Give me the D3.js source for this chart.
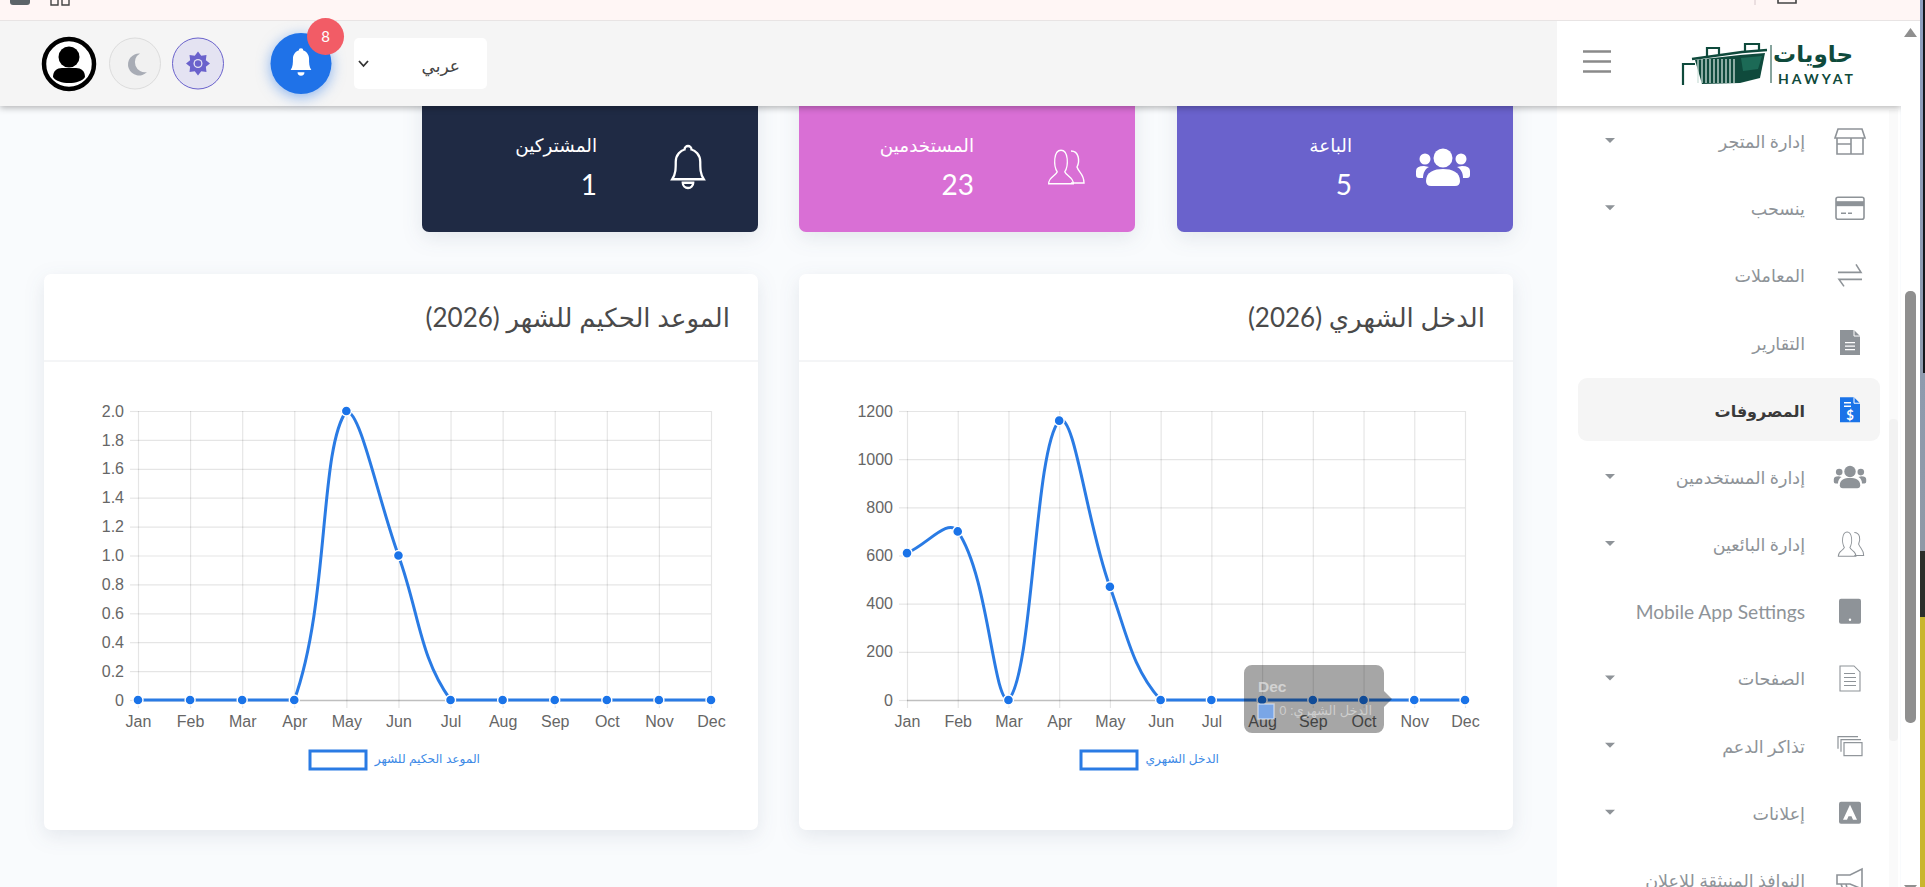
<!DOCTYPE html>
<html lang="ar">
<head>
<meta charset="utf-8">
<title>لوحة التحكم</title>
<script src="https://cdn.jsdelivr.net/npm/d3@7"></script>
<style>
  html, body { margin: 0; padding: 0; background: #f9fbfd; overflow: hidden; }
  svg { display: block; font-family: Lato, "DejaVu Sans", sans-serif; }
  .chart text { font-family: "Liberation Sans", "DejaVu Sans", sans-serif; }
  .rtl { direction: rtl; text-anchor: start; }
  .cardShadow { filter: drop-shadow(0 6px 10px rgba(40,60,90,.10)); }
  .barShadow { filter: drop-shadow(0 2px 3px rgba(0,0,0,.28)); }
</style>
</head>
<body>
<svg id="page" width="1925" height="887"></svg>
<script>
const months = ['Jan','Feb','Mar','Apr','May','Jun','Jul','Aug','Sep','Oct','Nov','Dec']
const incomeValues = [610,700,0,1160,470,0,0,0,0,0,0,0]
const incomeTicks = [0,200,400,600,800,1000,1200]
const wiseValues = [0,0,0,0,2,1,0,0,0,0,0,0]
const wiseTicks = [0,0.2,0.4,0.6,0.8,1.0,1.2,1.4,1.6,1.8,2.0]

const statLabels = ['المشتركين','المستخدمين','الباعة']
const statValues = [1,23,5]
const statColors = ['#1f2a44','#d96fd5','#6a62cc']
const statIcons = ['bellOutline','busts','users']

const menuLabels = ['إدارة المتجر','ينسحب','المعاملات','التقارير','المصروفات','إدارة المستخدمين','إدارة البائعين','Mobile App Settings','الصفحات','تذاكر الدعم','إعلانات','النوافذ المنبثقة للإعلان']
const menuIcons = ['shop','card','arrows','doc','docDollar','users','busts','tablet','page','windows','adBox','megaphone']
const menuCarets = [1,1,0,0,0,1,1,0,1,1,1,0]

const svg = d3.select('#page')
const blue = '#2a7be4', dotBlue = '#1a73e8', menuGrey = '#8e9398', logoGreen = '#0f4a3c'

// solid or outlined glyphs, all drawn around 0,0
const bellPath = 'M-9,7C-7,4 -7,1 -7,-3C-7,-7 -4,-9.5 -2,-10A2,2 0 1 1 2,-10C4,-9.5 7,-7 7,-3C7,1 7,4 9,7ZM-3,9A3,3 0 0 0 3,9Z'
const bustPath = 'M-13,14C-13,8 -6,8 -4,4C-8,-1 -8,-14 0,-14C8,-14 8,-1 4,4C6,8 13,8 13,14Z'

function drawIcon (g, name, color) {
  if (name == 'bellOutline') {
    g.append('path').attr('d', bellPath).attr('transform','scale(1.75)').attr('fill','none').attr('stroke',color).attr('stroke-width',1.3)
  } else if (name == 'bell') {
    g.append('path').attr('d', bellPath).attr('transform','scale(1.15)').attr('fill',color)
  } else if (name == 'users') {
    g.append('circle').attr('cy',-9).attr('r',9.5).attr('fill',color)
    g.append('path').attr('d','M-12,19Q-17,19 -17,14C-17,5 -9,2 0,2C9,2 17,5 17,14Q17,19 12,19Z').attr('fill',color)
    ;[-1,1].forEach(s => {
      g.append('circle').attr('cx',s*18).attr('cy',-8).attr('r',5.5).attr('fill',color)
      g.append('path').attr('d',`M${s*20},11H${s*24}Q${s*27},11 ${s*27},8V4Q${s*27},-1 ${s*19},-1L${s*14},0C${s*18},2 ${s*20},6 ${s*20},11Z`).attr('fill',color)
    })
  } else if (name == 'busts') {
    g.append('path').attr('d', bustPath).attr('transform','translate(-4,0) scale(.95,1.2)').attr('fill','none').attr('stroke',color).attr('stroke-width',1.3)
    g.append('path').attr('d','M6,-16C14,-16 15,-6 12,0C14,6 19,7 19,16H6').attr('fill','none').attr('stroke',color).attr('stroke-width',1.4)
  } else if (name == 'shop') {
    g.append('path').attr('d','M-12,-12H12L15,-3H-15ZM-13,-3V13H13V-3M-13,3H1V13M1,-3V3').attr('fill','none').attr('stroke',color).attr('stroke-width',1.6)
  } else if (name == 'card') {
    g.append('rect').attr('x',-14).attr('y',-11).attr('width',28).attr('height',22).attr('rx',2).attr('fill','none').attr('stroke',color).attr('stroke-width',1.6)
    g.append('rect').attr('x',-14).attr('y',-7).attr('width',28).attr('height',5).attr('fill',color)
    g.append('path').attr('d','M-9,5H-4M-2,5H2').attr('stroke',color).attr('stroke-width',1.6)
  } else if (name == 'arrows') {
    g.append('path').attr('d','M-12,-3H11L6,-11M12,4H-11L-6,11').attr('fill','none').attr('stroke',color).attr('stroke-width',1.6)
  } else if (name == 'doc' || name == 'docDollar') {
    g.append('path').attr('d','M-10,-12.5H4L10,-6.5V12.5H-10Z').attr('fill',color)
    g.append('path').attr('d','M4,-12.5V-6.5H10').attr('fill','none').attr('stroke','#fff').attr('stroke-width',1)
    if (name == 'doc') {
      g.append('path').attr('d','M-5,0H5M-5,3.5H5M-5,7H5').attr('stroke','#fff').attr('stroke-width',1.3)
    } else {
      g.append('path').attr('d','M-6,-7H1M-6,-3.5H1').attr('stroke','#fff').attr('stroke-width',1.3)
      g.append('text').attr('y',10).attr('text-anchor','middle').attr('font-size',13).attr('font-weight',700).attr('fill','#fff').text('$')
    }
  } else if (name == 'tablet') {
    g.append('rect').attr('x',-11).attr('y',-12.5).attr('width',22).attr('height',25).attr('rx',2).attr('fill',color)
    g.append('circle').attr('cy',8.5).attr('r',1.2).attr('fill','#fff')
  } else if (name == 'page') {
    g.append('path').attr('d','M-10,-12.5H4L10,-6.5V12.5H-10ZM-6,-5H5M-6,-1H6M-6,3H6M-6,7H6').attr('fill','none').attr('stroke',color).attr('stroke-width',1.1)
  } else if (name == 'windows') {
    g.append('path').attr('d','M-12,3V-9H8M-9,6V-6H11').attr('fill','none').attr('stroke',color).attr('stroke-width',1.2)
    g.append('rect').attr('x',-6).attr('y',-3).attr('width',18).attr('height',13).attr('fill','#fff').attr('stroke',color).attr('stroke-width',1.2)
  } else if (name == 'adBox') {
    g.append('rect').attr('x',-11).attr('y',-11).attr('width',22).attr('height',22).attr('rx',2).attr('fill',color)
    g.append('path').attr('d','M-7,7L0,-8L7,7H3L1.5,3.5H-1.5L-3,7Z').attr('fill','#fff')
  } else if (name == 'megaphone') {
    g.append('path').attr('d','M-13,-5H0L12,-11V9L0,4H-13ZM-9,4L-6,12H-2L-4,4').attr('fill','none').attr('stroke',color).attr('stroke-width',1.6)
  }
}

// Chart.js style spline, control points capped to the plot area
function splinePath (pts, tension, top, bottom) {
  const clampY = v => Math.max(top, Math.min(bottom, v))
  const ctrl = pts.map((p, i) => {
    const a = pts[i-1] || p, b = pts[i+1] || p
    const d01 = Math.hypot(p[0]-a[0], p[1]-a[1]), d12 = Math.hypot(b[0]-p[0], b[1]-p[1])
    const sum = d01 + d12 || 1
    const fa = tension*d01/sum, fb = tension*d12/sum
    return {
      prev: [p[0]-fa*(b[0]-a[0]), clampY(p[1]-fa*(b[1]-a[1]))],
      next: [p[0]+fb*(b[0]-a[0]), clampY(p[1]+fb*(b[1]-a[1]))]
    }
  })
  const path = d3.path()
  path.moveTo(pts[0][0], pts[0][1])
  for (let i = 1; i < pts.length; i++) {
    path.bezierCurveTo(ctrl[i-1].next[0], ctrl[i-1].next[1], ctrl[i].prev[0], ctrl[i].prev[1], pts[i][0], pts[i][1])
  }
  return path.toString()
}

function drawChart (opts) {
  const g = svg.append('g').attr('class','chart')
  const top = 411, bottom = 700
  const x = d3.scalePoint().domain(months).range([opts.left, opts.right])
  const y = d3.scaleLinear().domain([0, d3.max(opts.ticks)]).range([bottom, top])

  const gridY = g.append('g').attr('transform',`translate(${opts.left},0)`)
    .call(d3.axisLeft(y).tickValues(opts.ticks).tickSize(-(opts.right-opts.left)).tickFormat(''))
  const gridX = g.append('g').attr('transform',`translate(0,${top})`)
    .call(d3.axisBottom(x).tickSize(bottom-top).tickFormat(''))
  gridY.select('.domain').remove()
  gridX.select('.domain').remove()
  gridY.selectAll('line').attr('stroke', d => d === 0 ? 'rgba(0,0,0,.25)' : 'rgba(0,0,0,.1)').attr('stroke-width', d => d === 0 ? 1.6 : 1.2)
  gridX.selectAll('line').attr('stroke','rgba(0,0,0,.1)').attr('stroke-width',1.2)

  const axisY = g.append('g').attr('transform',`translate(${opts.left},0)`)
    .call(d3.axisLeft(y).tickValues(opts.ticks).tickSize(8).tickPadding(6).tickFormat(opts.format))
  const axisX = g.append('g').attr('transform',`translate(0,${bottom})`)
    .call(d3.axisBottom(x).tickSize(8).tickPadding(8))
  ;[axisX, axisY].forEach(a => {
    a.select('.domain').remove()
    a.selectAll('line').attr('stroke','rgba(0,0,0,.1)').attr('stroke-width',1.2)
    a.selectAll('text').attr('fill','#666').attr('font-size',16)
  })

  const pts = opts.values.map((v, i) => [x(months[i]), y(v)])
  g.append('path').attr('d', splinePath(pts, 0.4, top, bottom))
    .attr('fill','none').attr('stroke',blue).attr('stroke-width',3)
  g.selectAll('circle.point').data(pts).join('circle').attr('class','point')
    .attr('cx', d => d[0]).attr('cy', d => d[1]).attr('r',5)
    .attr('fill',dotBlue).attr('stroke','#fff').attr('stroke-width',1.4)

  // legend
  g.append('rect').attr('x',opts.legendX).attr('y',751).attr('width',56).attr('height',18)
    .attr('fill','#fff').attr('stroke',blue).attr('stroke-width',3)
  g.append('text').attr('class','rtl').attr('x',opts.legendTextX).attr('y',763)
    .attr('font-size',opts.legendSize).attr('fill','#3d8ae6').text(opts.label)
  return { g, x, y }
}

// background
svg.append('rect').attr('width',1925).attr('height',887).attr('fill','#f9fbfd')

// stat cards, tops hidden behind the header
const statX = d3.scaleOrdinal().domain(statLabels).range([422,799,1177])
statLabels.forEach((label, i) => {
  const left = statX(label), g = svg.append('g')
  g.append('rect').attr('class','cardShadow').attr('x',left).attr('y',80).attr('width',336).attr('height',152).attr('rx',7).attr('fill',statColors[i])
  g.append('text').attr('class','rtl').attr('x',left+175).attr('y',152).attr('font-size',18.4).attr('fill','#fff').text(label)
  g.append('text').attr('x',left+175).attr('y',195).attr('text-anchor','end').attr('font-size',28).attr('fill','#fff').text(statValues[i])
  drawIcon(g.append('g').attr('transform',`translate(${left+266},167)`), statIcons[i], '#fff')
})

// chart panels
const panels = [
  { left: 44, title: 'الموعد الحكيم للشهر (2026)' },
  { left: 799, title: 'الدخل الشهري (2026)' }
]
panels.forEach(p => {
  const g = svg.append('g')
  g.append('rect').attr('class','cardShadow').attr('x',p.left).attr('y',274).attr('width',714).attr('height',556).attr('rx',7).attr('fill','#fff')
  g.append('line').attr('x1',p.left).attr('x2',p.left+714).attr('y1',361).attr('y2',361).attr('stroke','#e9ebee')
  g.append('text').attr('class','rtl').attr('x',p.left+686).attr('y',327).attr('font-size',26).attr('fill','#4a4a4a').text(p.title)
})

drawChart({ left: 138, right: 711, values: wiseValues, ticks: wiseTicks,
  format: d => d === 0 ? '0' : d3.format('.1f')(d),
  label: 'الموعد الحكيم للشهر', legendX: 310, legendTextX: 480, legendSize: 12.2 })
const income = drawChart({ left: 907, right: 1465, values: incomeValues, ticks: incomeTicks,
  format: d3.format('d'),
  label: 'الدخل الشهري', legendX: 1081, legendTextX: 1219, legendSize: 12.2 })

// tooltip left over the income chart
const tip = income.g.append('g')
tip.append('path').attr('d','M1252,665H1376A8,8 0 0 1 1384,673V691L1392,699L1384,707V725A8,8 0 0 1 1376,733H1252A8,8 0 0 1 1244,725V673A8,8 0 0 1 1252,665Z').attr('fill','rgba(0,0,0,.35)')
tip.append('text').attr('x',1258).attr('y',692).attr('font-size',15.5).attr('font-weight',700).attr('fill','rgba(255,255,255,.5)').text(months[11])
tip.append('rect').attr('x',1258).attr('y',704).attr('width',16).attr('height',15).attr('fill','#7aa6e6').attr('stroke','rgba(255,255,255,.5)').attr('stroke-width',1.5)
tip.append('text').attr('class','rtl').attr('x',1372).attr('y',715).attr('font-size',13).attr('fill','rgba(255,255,255,.45)').text('الدخل الشهري: ' + incomeValues[11])

// sidebar
const sidebar = svg.append('g')
sidebar.append('rect').attr('x',1557).attr('y',0).attr('width',343).attr('height',887).attr('fill','#fff')
sidebar.append('rect').attr('x',1578).attr('y',378).attr('width',302).attr('height',63).attr('rx',9).attr('fill','#f5f5f5')
sidebar.append('rect').attr('x',1889).attr('y',110).attr('width',9).attr('height',777).attr('fill','#fafafa')
sidebar.append('rect').attr('x',1889).attr('y',419).attr('width',9).attr('height',322).attr('rx',4).attr('fill','#f2f2f2')

const menuY = d3.scaleLinear().domain([0,11]).range([141,880])
const menuIconScale = { users: 0.6, busts: 0.72 }
menuLabels.forEach((label, i) => {
  const active = i == 4
  const g = sidebar.append('g').attr('transform',`translate(0,${menuY(i)})`)
  g.append('text').attr('class','rtl').attr('x',1805).attr('y',i == 7 ? 8 : 7)
    .attr('font-size', i == 7 ? 19.2 : active ? 16 : 17.5).attr('font-weight', active ? 700 : 400)
    .attr('fill', active ? '#3a3a3a' : menuGrey).text(label)
  drawIcon(g.append('g').attr('transform',`translate(1850,0) scale(${menuIconScale[menuIcons[i]] || 1})`), menuIcons[i], active ? '#1a73e8' : menuGrey)
  if (menuCarets[i]) g.append('path').attr('d','M1605,-3H1615L1610,2Z').attr('fill',menuGrey)
})

// header bar
svg.append('rect').attr('class','barShadow').attr('x',0).attr('y',20).attr('width',1901).attr('height',86).attr('fill','#f5f5f5')
svg.append('rect').attr('x',1557).attr('y',20).attr('width',344).attr('height',86).attr('fill','#fff')
svg.append('rect').attr('width',1920).attr('height',20).attr('fill','#fff6f5')
svg.append('line').attr('x1',0).attr('x2',1920).attr('y1',20.5).attr('y2',20.5).attr('stroke','#e8e4e4')

// browser chrome scraps at the very top
svg.append('rect').attr('x',10).attr('y',-6).attr('width',20).attr('height',11).attr('rx',3).attr('fill','#5b6468')
svg.append('path').attr('d','M51,0V5H58V0M62,0V5H69V0').attr('fill','none').attr('stroke','#444').attr('stroke-width',1.4)
svg.append('path').attr('d','M1778,0V3H1796V0').attr('fill','none').attr('stroke','#444').attr('stroke-width',1.6)
svg.append('line').attr('x1',1755).attr('x2',1755).attr('y1',0).attr('y2',5).attr('stroke','#d8c8cc')

// avatar
svg.append('circle').attr('cx',69).attr('cy',64).attr('r',25).attr('fill','#fff').attr('stroke','#000').attr('stroke-width',4.5)
svg.append('circle').attr('cx',69).attr('cy',57).attr('r',10.5).attr('fill','#000')
svg.append('path').attr('d','M53,77C53,71 57,68 62,68H76C81,68 85,71 85,77C80,85 58,85 53,77Z').attr('fill','#000')

// theme buttons
svg.append('circle').attr('cx',135).attr('cy',63.5).attr('r',25.5).attr('fill','#f1f1f1').attr('stroke','#dcdcdc')
svg.append('path').attr('d','M140,53.5A11,11 0 1 0 147,72A10,10 0 0 1 140,53.5Z').attr('fill','#a8acb5')
svg.append('circle').attr('cx',198).attr('cy',63.5).attr('r',25.5).attr('fill','#e4e3f2').attr('stroke','#6a62cc')
svg.append('path').attr('d', d3.range(16).map(i => {
  const a = i*Math.PI/8, r = i%2 ? 8.5 : 12
  return (i ? 'L' : 'M') + (198+r*Math.sin(a)) + ',' + (63.5-r*Math.cos(a))
}).join('') + 'Z').attr('fill','#6a62cc')
svg.append('circle').attr('cx',198).attr('cy',63.5).attr('r',4.5).attr('fill','#e4e3f2')
svg.append('circle').attr('cx',198).attr('cy',63.5).attr('r',3.2).attr('fill','#6a62cc')

// notification bell
svg.append('circle').attr('cx',301).attr('cy',63.5).attr('r',30.5).attr('fill','#1f72e8').style('filter','drop-shadow(0 3px 7px rgba(31,114,232,.5))')
drawIcon(svg.append('g').attr('transform','translate(301,62)'), 'bell', '#fff')
svg.append('circle').attr('cx',325.5).attr('cy',36.5).attr('r',18.5).attr('fill','#f25c66')
svg.append('text').attr('x',325.5).attr('y',42).attr('text-anchor','middle').attr('font-size',15).attr('fill','#fff').text('8')

// language select
svg.append('rect').attr('x',354).attr('y',38).attr('width',133).attr('height',51).attr('rx',5).attr('fill','#fff')
svg.append('path').attr('d','M359,61L363.5,66L368,61').attr('fill','none').attr('stroke','#333').attr('stroke-width',1.8)
svg.append('text').attr('class','rtl').attr('x',460).attr('y',72).attr('font-size',17).attr('fill','#444').text('عربي')

// hamburger and logo
svg.append('path').attr('d','M1583,51.5H1611M1583,61.5H1611M1583,71.5H1611').attr('stroke','#8a8a8a').attr('stroke-width',2.4)
const logo = svg.append('g')
logo.append('path').attr('d','M1695,60L1740,55L1765,53L1760,78L1740,83L1702,84Z').attr('fill',logoGreen)
logo.append('path').attr('d', d3.range(10).map(i => `M${1698+i*4},59V83`).join('')).attr('stroke','#cfe0da').attr('stroke-width',1.3)
logo.append('path').attr('d','M1692,59L1742,52L1767,50').attr('fill','none').attr('stroke',logoGreen).attr('stroke-width',2.6)
logo.append('path').attr('d','M1741,58L1762,56L1758,69L1743,71Z').attr('fill','#1c6a56')
logo.append('path').attr('d','M1683,85V64H1695M1707,56V48H1719V54M1745,52V44H1759V51').attr('fill','none').attr('stroke',logoGreen).attr('stroke-width',2.2)
logo.append('line').attr('x1',1771).attr('x2',1771).attr('y1',45).attr('y2',83).attr('stroke',logoGreen)
logo.append('text').attr('class','rtl').attr('x',1853).attr('y',62).attr('font-size',23).attr('font-weight',700).attr('fill',logoGreen).text('حاويات')
logo.append('text').attr('x',1778).attr('y',84).attr('font-size',14).attr('font-weight',700).attr('textLength',75).attr('fill',logoGreen).text('HAWYAT')

// window scrollbar and the bit of desktop at the right edge
svg.append('rect').attr('x',1901).attr('y',21).attr('width',19).attr('height',866).attr('fill','#fff')
svg.append('path').attr('d','M1904,37H1917L1910.5,28Z').attr('fill','#8f8f8f')
svg.append('path').attr('d','M1904,885H1917L1910.5,893Z').attr('fill','#8f8f8f')
svg.append('rect').attr('x',1905).attr('y',291).attr('width',11).attr('height',432).attr('rx',5).attr('fill','#8f8f8f')

const desk = svg.append('defs').append('linearGradient').attr('id','desk').attr('x1',0).attr('x2',0).attr('y1',0).attr('y2',1)
desk.append('stop').attr('offset',0).attr('stop-color','#8e9fc0')
desk.append('stop').attr('offset',1).attr('stop-color','#8f99a6')
svg.append('rect').attr('x',1920).attr('y',0).attr('width',5).attr('height',551).attr('fill','url(#desk)')
svg.append('rect').attr('x',1923).attr('y',0).attr('width',2).attr('height',373).attr('fill','#15171c')
svg.append('rect').attr('x',1920).attr('y',551).attr('width',5).attr('height',66).attr('fill','#2c2f2a')
svg.append('rect').attr('x',1920).attr('y',617).attr('width',5).attr('height',270).attr('fill','#c9b62e')
</script>
</body>
</html>
